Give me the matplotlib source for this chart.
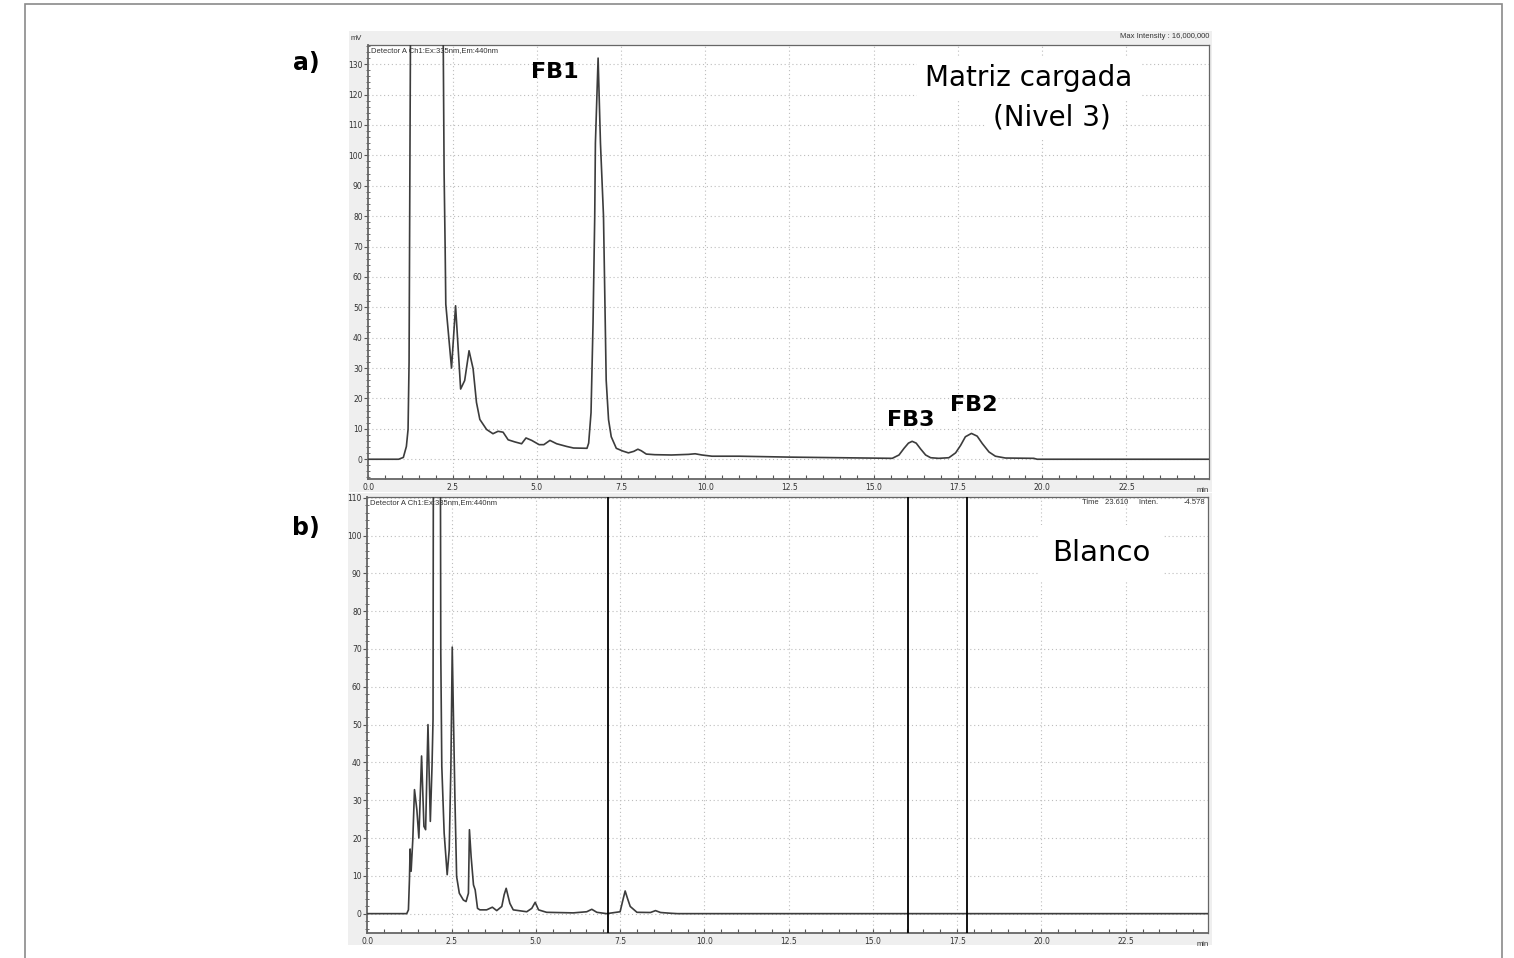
import matplotlib
matplotlib.use("Agg")
import matplotlib.pyplot as plt
from matplotlib.patches import Rectangle
from matplotlib.ticker import MultipleLocator, FormatStrFormatter

# Trace a) loaded matrix (time in min, signal in mV)
A_TIME = [0.0, 0.9, 1.04, 1.13, 1.18, 1.21, 1.24, 1.26, 1.5, 2.0, 2.21, 2.25, 2.28, 2.30,
          2.47, 2.59, 2.74, 2.86, 2.99, 3.11, 3.21, 3.31, 3.51, 3.70, 3.85, 4.0, 4.15,
          4.35, 4.55, 4.68, 4.85, 5.07, 5.21, 5.39, 5.59, 5.89, 6.09, 6.49, 6.54, 6.61,
          6.67, 6.72, 6.74, 6.82, 6.89, 6.98, 7.06, 7.13, 7.21, 7.36, 7.55, 7.72, 7.88,
          8.0, 8.1, 8.25, 8.5, 9.0, 9.5, 9.7, 9.9, 10.2, 11.0, 12.5, 14.0, 15.55, 15.75,
          15.90, 16.03, 16.14, 16.26, 16.39, 16.54, 16.69, 16.93, 17.23, 17.43, 17.58,
          17.72, 17.90, 18.07, 18.22, 18.42, 18.61, 18.91, 19.75, 19.85, 25.0]
A_SIGNAL = [0.0, 0.0, 0.6, 4.2, 9.8, 32, 110, 160, 400, 400, 160, 94, 70, 51,
            30, 50.5, 23.1, 25.9, 35.7, 29.8, 18.7, 13.1, 9.8, 8.4, 9.2, 8.9, 6.4,
            5.7, 5.1, 7.0, 6.2, 4.8, 4.8, 6.2, 5.1, 4.2, 3.7, 3.6, 5.3, 15.3,
            45, 80, 104, 132, 104, 80, 26, 13, 7.4, 3.6, 2.7, 2.1, 2.6,
            3.3, 2.8, 1.7, 1.5, 1.4, 1.6, 1.8, 1.4, 1.0, 1.0, 0.7, 0.5, 0.3, 1.4,
            3.6, 5.3, 5.9, 5.3, 3.4, 1.4, 0.5, 0.3, 0.5, 2.1, 4.6,
            7.4, 8.5, 7.6, 5.2, 2.4, 1.0, 0.4, 0.3, 0.0, 0.0]

# Trace b) blank
B_TIME = [0.0, 1.17, 1.22, 1.25, 1.27, 1.30, 1.35, 1.40, 1.47, 1.53, 1.61, 1.68, 1.73,
          1.80, 1.87, 1.92, 1.95, 1.96, 2.0, 2.15, 2.17, 2.18, 2.21, 2.28, 2.37, 2.43,
          2.48, 2.52, 2.55, 2.60, 2.65, 2.73, 2.85, 2.93, 3.0, 3.03, 3.08, 3.15, 3.2,
          3.27, 3.34, 3.54, 3.71, 3.84, 3.99, 4.06, 4.12, 4.18, 4.23, 4.33, 4.73, 4.88,
          4.98, 5.08, 5.32, 6.11, 6.51, 6.66, 6.81, 7.1, 7.5, 7.58, 7.65, 7.72, 7.8,
          8.0, 8.4, 8.55, 8.7, 9.0, 9.2, 25.0]
B_SIGNAL = [0.0, 0.0, 1.0, 8.9, 17.1, 11.2, 19.6, 32.8, 27.5, 20.0, 41.7, 23.1, 22.2,
            50.0, 24.4, 39.0, 51.4, 120, 400, 400, 115, 69, 39, 21.3, 10.3, 16.9,
            39.0, 70.5, 55, 30.2, 9.8, 5.4, 3.6, 3.2, 5.4, 22.2, 15.1, 7.6, 6.3,
            1.4, 1.0, 1.0, 1.7, 0.8, 1.9, 5.0, 6.7, 4.5, 2.7, 1.0, 0.5, 1.4,
            3.0, 1.0, 0.35, 0.2, 0.5, 1.15, 0.35, 0.0, 0.5, 3.5, 6.0, 4.0, 1.9,
            0.35, 0.3, 0.8, 0.3, 0.1, 0.0, 0.0]
B_MARKERS = [7.14, 16.04, 17.80]

W, H = 1514, 958
fig = plt.figure(figsize=(W / 100, H / 100), dpi=100)


def px_rect(x0, y0, x1, y1, **kw):
    # rectangle given in picture pixels (top-left origin)
    r = Rectangle((x0 / W, 1 - y1 / H), (x1 - x0) / W, (y1 - y0) / H,
                  transform=fig.transFigure, **kw)
    fig.patches.append(r)


px_rect(25, 4, 1502, 975, facecolor="white", edgecolor="#8a8a8a", lw=1.2, zorder=-3)
px_rect(349, 31, 1212, 492, facecolor="#efefef", edgecolor="none", zorder=-2)
px_rect(348, 493, 1212, 945, facecolor="#efefef", edgecolor="none", zorder=-2)

ax_a = fig.add_axes([368.3 / W, 1 - 479 / H, (1209 - 368.3) / W, (479 - 45) / H])
ax_b = fig.add_axes([367.3 / W, 1 - 933.3 / H, (1208.3 - 367.3) / W, (933.3 - 497) / H])

small = dict(fontsize=5.5, color="#333333", family="Liberation Sans")

for ax, t, s, ytop, ybot in [(ax_a, A_TIME, A_SIGNAL, 136.3, -6.5),
                             (ax_b, B_TIME, B_SIGNAL, 110.2, -5.2)]:
    ax.set_facecolor("white")
    ax.plot(t, s, color="#3c3c3c", lw=1.2, zorder=3)
    ax.set_xlim(0, 24.95)
    ax.set_ylim(ybot, ytop)
    ax.xaxis.set_major_locator(MultipleLocator(2.5))
    ax.xaxis.set_minor_locator(MultipleLocator(0.5))
    ax.xaxis.set_major_formatter(FormatStrFormatter("%.1f"))
    ax.yaxis.set_major_locator(MultipleLocator(10))
    ax.yaxis.set_minor_locator(MultipleLocator(2))
    ax.yaxis.set_major_formatter(FormatStrFormatter("%d"))
    ax.tick_params(axis="x", which="both", direction="in", length=3, width=0.8,
                   colors="#555555", labelsize=5.5, labelcolor="#333333", pad=3)
    ax.tick_params(axis="y", which="major", direction="out", length=3, width=0.8,
                   colors="#555555", labelsize=5.5, labelcolor="#333333", pad=1)
    ax.tick_params(axis="y", which="minor", direction="inout", length=3, width=0.6,
                   colors="#555555")
    ax.grid(True, which="major", linestyle=(0, (1, 2.5)), color="#bdbdbd", lw=0.8)
    for side, sp in ax.spines.items():
        sp.set_color("#666666")
        sp.set_linewidth(1.3 if side in ("left", "bottom") else 0.9)
    ax.text(0.003, 0.995, "Detector A Ch1:Ex:335nm,Em:440nm", transform=ax.transAxes,
            ha="left", va="top", zorder=5, **small)
    ax.text(1.0, -0.018, "min", transform=ax.transAxes, ha="right", va="top", **small)

ax_a.text(-0.008, 1.008, "mV", transform=ax_a.transAxes, ha="right", va="bottom", **small)
ax_a.text(1.0, 1.012, "Max Intensity : 16,000,000", transform=ax_a.transAxes,
          ha="right", va="bottom", **small)
ax_b.text(0.85, 0.995, "Time   23.610     Inten.", transform=ax_b.transAxes,
          ha="left", va="top", zorder=5, **small)
ax_b.text(0.997, 0.995, "-4.578", transform=ax_b.transAxes,
          ha="right", va="top", zorder=5, **small)

for tm in B_MARKERS:
    ax_b.axvline(tm, color="black", lw=1.3, zorder=4)

# labels on the traces
bold = dict(fontsize=16, fontweight="bold", ha="center", va="center", zorder=6)
ax_a.text(5.53, 127.4, "FB1", **bold)
ax_a.text(16.1, 12.9, "FB3", **bold)
ax_a.text(17.97, 17.9, "FB2", **bold)

box = dict(facecolor="white", edgecolor="none", pad=6)
ax_a.text(19.6, 125.4, "Matriz cargada", fontsize=20, ha="center", va="center",
          bbox=box, zorder=6)
ax_a.text(20.3, 112.3, "(Nivel 3)", fontsize=20, ha="center", va="center",
          bbox=box, zorder=6)
ax_b.text(21.77, 95.5, "Blanco", fontsize=21, ha="center", va="center",
          bbox=dict(facecolor="white", edgecolor="none", pad=10), zorder=6)

fig.text(306 / W, 1 - 63 / H, "a)", fontsize=17, fontweight="bold", ha="center", va="center")
fig.text(306 / W, 1 - 528 / H, "b)", fontsize=17, fontweight="bold", ha="center", va="center")

fig.savefig("out.png", dpi=100)
